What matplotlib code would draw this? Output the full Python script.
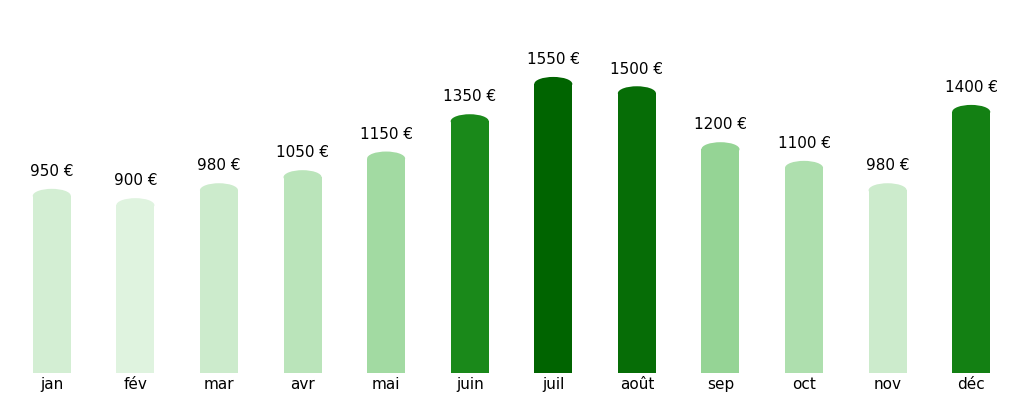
import matplotlib.pyplot as plt
from matplotlib.patches import Ellipse
from matplotlib.colors import LinearSegmentedColormap, Normalize

months = ['jan', 'fév', 'mar', 'avr', 'mai', 'juin', 'juil', 'août', 'sep', 'oct', 'nov', 'déc']
values = [950, 900, 980, 1050, 1150, 1350, 1550, 1500, 1200, 1100, 980, 1400]

cmap = LinearSegmentedColormap.from_list('g', [
    (0.0, '#dff3df'), (0.46, '#96d596'), (0.69, '#1a8a1a'), (1.0, '#006400')])
norm = Normalize(900, 1550)

fig = plt.figure(figsize=(10.24, 4.04), dpi=100)
ax = fig.add_axes([10 / 1024, 31 / 404, 1003 / 1024, 373 / 404])
w = 0.455
cap_h = 75
for i, v in enumerate(values):
    c = cmap(norm(v))
    ax.bar(i, v, width=w, color=c)
    ax.add_patch(Ellipse((i, v), w, cap_h, color=c, lw=0))
    ax.text(i, v + 130, f'{v} €', ha='center', va='center', fontsize=11)

ax.set_xlim(-0.5, 11.5)
ax.set_ylim(0, 2000)
ax.set_xticks(range(len(months)))
ax.set_xticklabels(months, fontsize=11)
ax.tick_params(axis='x', length=0, pad=3)
ax.set_yticks([])
for s in ax.spines.values():
    s.set_visible(False)

fig.savefig('out.png', dpi=100)
